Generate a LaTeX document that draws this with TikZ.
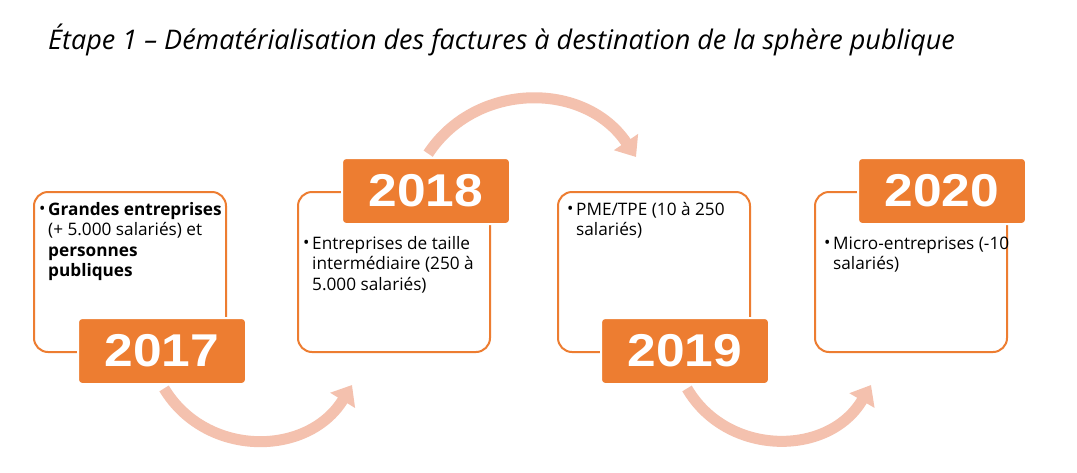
\documentclass[tikz,border=0pt]{standalone}
\usepackage{fontspec}
\setmainfont{Open Sans}
\newfontfamily\yearfont{Liberation Sans}[FakeStretch=1.12]
\usetikzlibrary{arrows.meta}
\definecolor{stageorange}{RGB}{237,125,49}
\definecolor{arrowpink}{RGB}{244,193,174}
\newcommand{\puce}{\raisebox{1pt}{\fontsize{17}{17}\selectfont •}}

\begin{document}
\begin{tikzpicture}[x=1pt,y=-1pt,
    stagebox/.style={draw=stageorange,line width=2pt,rounded corners=14pt,fill=white,minimum width=192pt,minimum height=160pt},
    yearbox/.style={draw=white,line width=2pt,fill=stageorange,rounded corners=4pt,minimum width=168pt,minimum height=66pt,text=white,font=\yearfont\bfseries\fontsize{46}{46}\selectfont},
    bullettext/.style={anchor=base west,inner sep=0pt,font=\fontsize{17.2}{20.5}\selectfont},
    flow/.style={draw=arrowpink,line width=11pt,shorten <=4pt,-{Triangle[width=28pt,length=18pt]}}]
            \fill[white] (0,0) rectangle (1077,472);
            \useasboundingbox (0,0) rectangle (1077,472);
            \node[anchor=base west,inner sep=0pt,font=\itshape\fontsize{27}{30}\selectfont] (titre) at (48,49) {Étape 1 – Dématérialisation des factures à destination de la sphère publique};
            % cadres blancs
            \node[stagebox] (b2017) at (130,272) {};
            \node[stagebox] (b2018) at (394,272) {};
            \node[stagebox] (b2019) at (654,272) {};
            \node[stagebox] (b2020) at (911,272) {};
            % textes
            \node[bullettext] (t2017) at (39,215) {\begin{tabular}[t]{@{}p{9pt}@{}l@{}}\puce & \textbf{Grandes entreprises}\\ & (+ 5.000 salariés) et\\ & \textbf{personnes}\\ & \textbf{publiques}\end{tabular}};
            \node[bullettext] (t2018) at (303,249) {\begin{tabular}[t]{@{}p{9pt}@{}l@{}}\puce & Entreprises de taille\\ & intermédiaire (250 à\\ & 5.000 salariés)\end{tabular}};
            \node[bullettext] (t2019) at (567,215) {\begin{tabular}[t]{@{}p{9pt}@{}l@{}}\puce & PME/TPE (10 à 250\\ & salariés)\end{tabular}};
            \node[bullettext] (t2020) at (824,249) {\begin{tabular}[t]{@{}p{9pt}@{}l@{}}\puce & Micro-entreprises (-10\\ & salariés)\end{tabular}};
            % annees
            \node[yearbox] (y2017) at (162,351) {2017};
            \node[yearbox] (y2018) at (426,191) {2018};
            \node[yearbox] (y2019) at (685,351) {2019};
            \node[yearbox] (y2020) at (942,191) {2020};
            % fleches
            \coordinate (e1) at (352,385);
            \coordinate (e2) at (636,157);
            \coordinate (e3) at (871,385);
            \draw[flow] (y2017.south) .. controls +(44,73) and +(-44,72) .. (e1);
            \draw[flow] (y2018.north) .. controls +(50,-76) and +(-51,-76) .. (e2);
            \draw[flow] (y2019.south) .. controls +(42,72) and +(-42,72) .. (e3);
        \end{tikzpicture}
\end{document}
